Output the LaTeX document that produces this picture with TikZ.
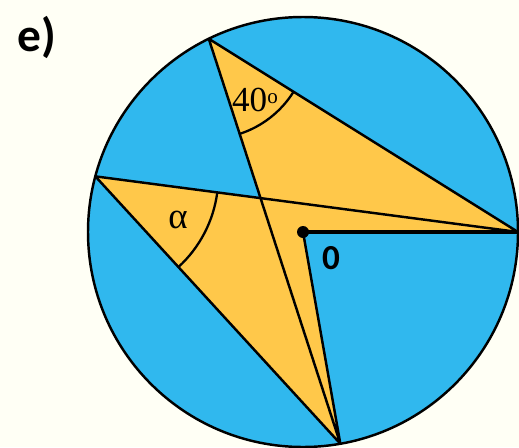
\documentclass[tikz,border=0pt]{standalone}
\usepackage{fontspec}
\usepackage{amsmath}
\usetikzlibrary{calc}
\newfontfamily\carlito{Carlito}
\newfontfamily\libserif{Liberation Serif}
\definecolor{sky}{HTML}{30B8EE}
\definecolor{sand}{HTML}{FFC84A}
\definecolor{paper}{HTML}{FFFFF5}

\begin{document}
\begin{tikzpicture}[x=0.02cm,y=0.02cm,line width=1.4pt,
    chord/.style={draw=black,line join=round},
    angarc/.style={draw=black,line width=1.3pt}]
        \fill[paper] (0,0) rectangle (519,447);
        \useasboundingbox (0,0) rectangle (519,447);
        \coordinate (O) at (303,215);
        \coordinate (A) at ($(O)+(116:215)$);
        \coordinate (B) at ($(O)+(0:215)$);
        \coordinate (C) at ($(O)+(165:215)$);
        \coordinate (D) at ($(O)+(-80:215)$);
        \coordinate (P) at (intersection of A--D and C--B);
        \fill[sky] (O) circle (215);
        \fill[sand] (C) -- (B) -- (O) -- (D) -- cycle;
        \fill[sand] (A) -- (P) -- (B) -- cycle;
        % angle marks
        \draw[angarc] ($(A)+(-72:100)$) arc[start angle=-72, end angle=-32, radius=100];
        \draw[angarc] ($(C)+(-7.5:123)$) arc[start angle=-7.5, end angle=-47.5, radius=123];
        \draw[chord] (A) -- (B) (A) -- (D) (C) -- (B) (C) -- (D) (O) -- (D);
        \draw[chord,line width=2pt] (O) -- (B);
        \draw (O) circle (215);
        \fill (O) circle (6);
        \node (lbl40) at (255,347) {\libserif\fontsize{20}{20}\selectfont 40\raisebox{4.5pt}{\fontsize{12}{12}\selectfont o}};
        \node (lblalpha) at (178,227) {\libserif\fontsize{21}{21}\selectfont α};
        \node (lblO) at (331,189) {\carlito\bfseries\fontsize{20}{20}\selectfont 0};
        \node (lbltask) at (37,410) {\carlito\bfseries\fontsize{27}{27}\selectfont e)};
      \end{tikzpicture}
\end{document}
